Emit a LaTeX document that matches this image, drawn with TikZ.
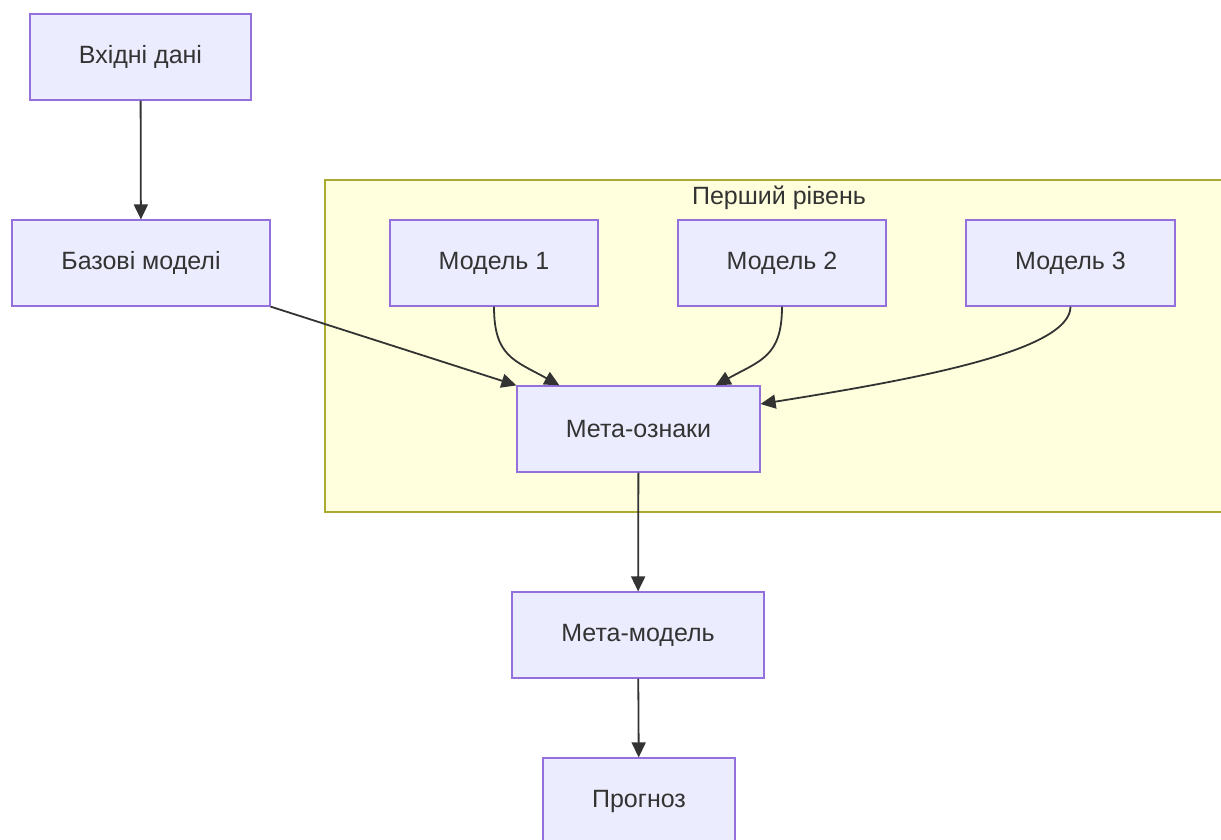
\documentclass[tikz,border=0pt]{standalone}
\usepackage{fontspec}
\setmainfont{Liberation Sans}
\usetikzlibrary{arrows.meta}

\definecolor{boxfill}{HTML}{ECECFF}
\definecolor{boxline}{HTML}{9370DB}
\definecolor{groupfill}{HTML}{FFFFDE}
\definecolor{groupline}{HTML}{AAAA33}
\definecolor{inkgray}{HTML}{333333}

\begin{document}
\begin{tikzpicture}[x=1pt, y=-1pt,
        block/.style={draw=boxline, fill=boxfill, line width=1.2pt, minimum height=86pt,
            inner sep=0pt, text=inkgray, font=\fontsize{25}{30}\selectfont},
        flow/.style={draw=inkgray, line width=1.8pt, -{Triangle[length=15pt, width=14pt]}}]
        % Page frame
        \clip (0,0) rectangle (1221,839);

        % First level group
        \draw[draw=groupline, fill=groupfill, line width=1.2pt] (325,180) rectangle (1233,512);
        \node[text=inkgray, font=\fontsize{25}{30}\selectfont] (level) at (779,198) {Перший рівень};

        % Nodes
        \node[block, minimum width=221pt] (input) at (140.5,57) {Вхідні дані};
        \node[block, minimum width=258pt] (base) at (141,263) {Базові моделі};
        \node[block, minimum width=208pt] (model1) at (494,263) {Модель 1};
        \node[block, minimum width=208pt] (model2) at (782,263) {Модель 2};
        \node[block, minimum width=209pt] (model3) at (1070.5,263) {Модель 3};
        \node[block, minimum width=243pt] (metafeat) at (638.5,429) {Мета-ознаки};
        \node[block, minimum width=252pt] (metamodel) at (638,635) {Мета-модель};
        \node[block, minimum width=192pt] (forecast) at (639,801) {Прогноз};

        % Connectors
        \draw[flow] (input) -- (base);
        \draw[flow] (base.south east) -- (metafeat.north west);
        \draw[flow] (model1.south) .. controls +(0,50) and +(-45,-25) .. ([xshift=43pt]metafeat.north west);
        \draw[flow] (model2.south) .. controls +(0,50) and +(45,-25) .. ([xshift=-45pt]metafeat.north east);
        \draw[flow] (model3.south) .. controls +(0,45) and +(150,-24) .. ([yshift=25pt]metafeat.east);
        \draw[flow] (metafeat) -- (metamodel);
        \draw[flow] (metamodel) -- (forecast);
    \end{tikzpicture}
\end{document}
